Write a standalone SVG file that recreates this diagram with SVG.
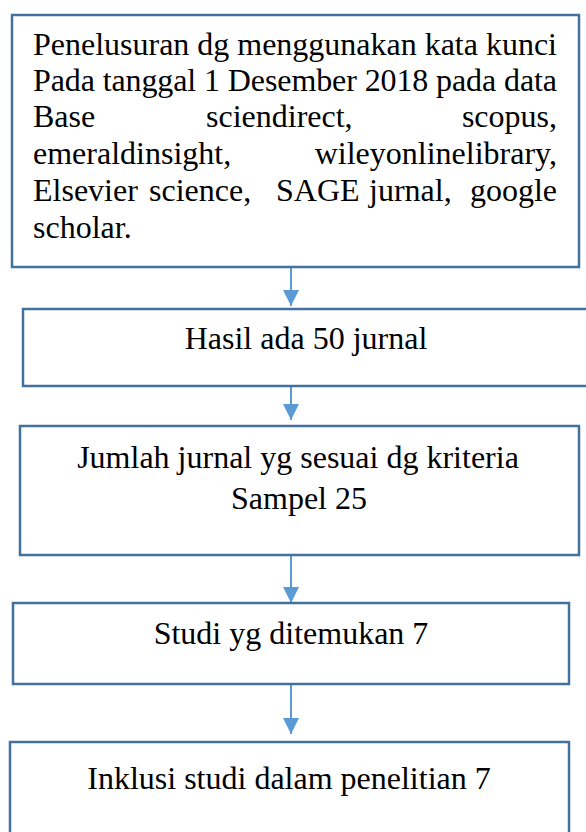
<svg xmlns="http://www.w3.org/2000/svg" width="586" height="832" viewBox="0 0 586 832">
<style>
.box{fill:#ffffff;stroke:#41719C;stroke-width:2.5}
.t{font-family:"Liberation Serif","Times New Roman",serif;font-size:32px;fill:#000000}
.c{text-anchor:middle}
.e{text-anchor:end}
.conn{stroke:#5B9BD5;stroke-width:2;fill:none}
</style>
<defs>
<marker id="ah" markerUnits="userSpaceOnUse" markerWidth="16" markerHeight="16" refX="16" refY="8" orient="auto">
<path d="M0,0 L16,8 L0,16 Z" fill="#5B9BD5"/>
</marker>
</defs>
<rect width="586" height="832" fill="#ffffff"/>
<g id="connectors">
<line class="conn" x1="291" y1="268" x2="291" y2="306" marker-end="url(#ah)"/>
<line class="conn" x1="291" y1="386" x2="291" y2="420" marker-end="url(#ah)"/>
<line class="conn" x1="291" y1="555" x2="291" y2="603" marker-end="url(#ah)"/>
<line class="conn" x1="291" y1="684" x2="291" y2="734" marker-end="url(#ah)"/>
</g>
<g id="node1">
<rect class="box" x="12" y="15" width="567" height="252"/>
<text class="t" x="33" y="55" textLength="524" lengthAdjust="spacing">Penelusuran dg menggunakan kata kunci</text>
<text class="t" x="33" y="91" textLength="524" lengthAdjust="spacing">Pada tanggal 1 Desember 2018 pada data</text>
<text class="t" x="33" y="127">Base</text>
<text class="t" x="206" y="127">sciendirect,</text>
<text class="t e" x="557" y="127">scopus,</text>
<text class="t" x="33" y="164">emeraldinsight,</text>
<text class="t e" x="557" y="164">wileyonlinelibrary,</text>
<text class="t" x="33" y="201">Elsevier</text>
<text class="t" x="149" y="201">science,</text>
<text class="t" x="276" y="201">SAGE</text>
<text class="t" x="369" y="201">jurnal,</text>
<text class="t e" x="557" y="201">google</text>
<text class="t" x="33" y="238">scholar.</text>
</g>
<g id="node2">
<rect class="box" x="23" y="309" width="570" height="77"/>
<text class="t c" x="306" y="349">Hasil ada 50 jurnal</text>
</g>
<g id="node3">
<rect class="box" x="20" y="426" width="559" height="129"/>
<text class="t c" x="298" y="468">Jumlah jurnal yg sesuai dg kriteria</text>
<text class="t c" x="299" y="509">Sampel 25</text>
</g>
<g id="node4">
<rect class="box" x="13" y="603" width="556" height="81"/>
<text class="t c" x="291" y="644">Studi yg ditemukan 7</text>
</g>
<g id="node5">
<rect class="box" x="10" y="742" width="559" height="100"/>
<text class="t c" x="289" y="789">Inklusi studi dalam penelitian 7</text>
</g>
</svg>
